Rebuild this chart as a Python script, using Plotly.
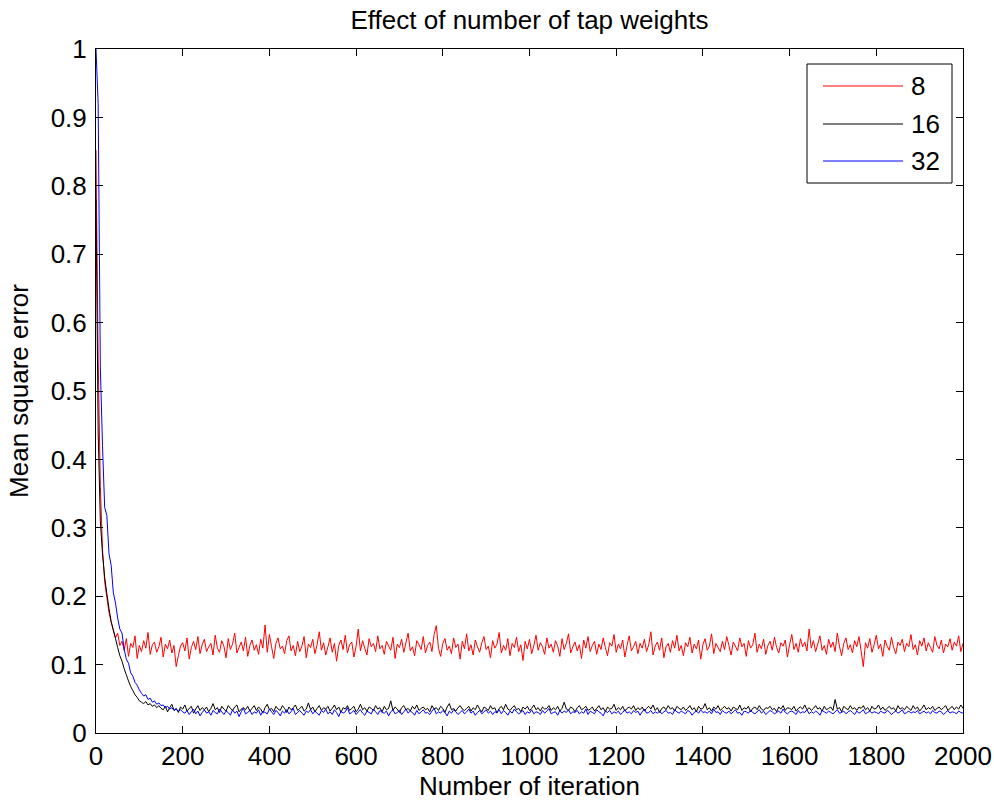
import plotly.graph_objects as go

step = 5
series_names = ["8", "16", "32"]
tick_x = [0, 200, 400, 600, 800, 1000, 1200, 1400, 1600, 1800, 2000]
tick_y = [0, 0.1, 0.2, 0.3, 0.4, 0.5, 0.6, 0.7, 0.8, 0.9, 1]

mse_8 = [
    0.852, 0.548, 0.362, 0.268, 0.221, 0.198, 0.176, 0.162, 0.151, 0.139, 0.146, 0.128, 0.134,
    0.121, 0.138, 0.112, 0.131, 0.125, 0.142, 0.109, 0.128, 0.119, 0.135, 0.124, 0.147, 0.115, 0.129, 0.133, 0.118, 0.126, 0.140, 0.111, 0.130,
    0.123, 0.136, 0.117, 0.128, 0.097, 0.113, 0.127, 0.132, 0.120, 0.139, 0.108, 0.125, 0.134, 0.122, 0.141, 0.116, 0.129, 0.137, 0.119, 0.126,
    0.131, 0.114, 0.143, 0.124, 0.118, 0.135, 0.127, 0.110, 0.138, 0.122, 0.130, 0.146, 0.117, 0.125, 0.133, 0.120, 0.140, 0.112, 0.128, 0.136,
    0.121, 0.129, 0.115, 0.137, 0.124, 0.158, 0.118, 0.144, 0.126, 0.109, 0.131, 0.139, 0.123, 0.127, 0.116, 0.135, 0.142, 0.120, 0.128, 0.113,
    0.134, 0.119, 0.127, 0.141, 0.110, 0.130, 0.125, 0.137, 0.116, 0.129, 0.148, 0.121, 0.132, 0.114, 0.126, 0.139, 0.118, 0.131, 0.105, 0.128,
    0.136, 0.122, 0.143, 0.117, 0.129, 0.133, 0.111, 0.127, 0.152, 0.120, 0.135, 0.124, 0.114, 0.138, 0.126, 0.131, 0.119, 0.142, 0.123, 0.128,
    0.115, 0.134, 0.127, 0.121, 0.140, 0.109, 0.130, 0.125, 0.137, 0.118, 0.132, 0.146, 0.120, 0.126, 0.113, 0.135, 0.129, 0.122, 0.141, 0.117,
    0.128, 0.133, 0.119, 0.144, 0.157, 0.124, 0.112, 0.131, 0.138, 0.121, 0.127, 0.116, 0.139, 0.125, 0.130, 0.108, 0.134, 0.123, 0.145, 0.120,
    0.129, 0.114, 0.136, 0.126, 0.118, 0.132, 0.141, 0.122, 0.127, 0.110, 0.135, 0.124, 0.130, 0.147, 0.117, 0.128, 0.121, 0.138, 0.113, 0.131,
    0.125, 0.140, 0.119, 0.129, 0.106, 0.134, 0.123, 0.137, 0.116, 0.128, 0.143, 0.121, 0.132, 0.126, 0.115, 0.139, 0.124, 0.130, 0.118, 0.135,
    0.127, 0.112, 0.138, 0.122, 0.131, 0.145, 0.117, 0.126, 0.133, 0.120, 0.129, 0.109, 0.136, 0.124, 0.141, 0.119, 0.128, 0.134, 0.115, 0.130,
    0.122, 0.139, 0.125, 0.113, 0.132, 0.127, 0.144, 0.118, 0.130, 0.123, 0.136, 0.111, 0.128, 0.142, 0.120, 0.126, 0.134, 0.116, 0.131, 0.124,
    0.137, 0.119, 0.129, 0.148, 0.114, 0.127, 0.133, 0.121, 0.139, 0.110, 0.126, 0.131, 0.118, 0.135, 0.124, 0.143, 0.120, 0.128, 0.113, 0.132,
    0.126, 0.140, 0.117, 0.130, 0.123, 0.136, 0.108, 0.129, 0.138, 0.121, 0.127, 0.145, 0.116, 0.131, 0.125, 0.119, 0.134, 0.122, 0.141, 0.128,
    0.114, 0.133, 0.127, 0.120, 0.139, 0.126, 0.131, 0.112, 0.135, 0.124, 0.129, 0.146, 0.118, 0.130, 0.123, 0.137, 0.115, 0.128, 0.134, 0.121,
    0.140, 0.125, 0.117, 0.132, 0.127, 0.136, 0.111, 0.129, 0.144, 0.122, 0.131, 0.118, 0.138, 0.126, 0.133, 0.120, 0.152, 0.124, 0.135, 0.119,
    0.130, 0.142, 0.121, 0.128, 0.115, 0.137, 0.125, 0.133, 0.119, 0.146, 0.127, 0.113, 0.131, 0.139, 0.122, 0.129, 0.117, 0.135, 0.126, 0.141,
    0.120, 0.097, 0.132, 0.124, 0.138, 0.118, 0.129, 0.143, 0.123, 0.130, 0.112, 0.136, 0.127, 0.121, 0.140, 0.125, 0.116, 0.133, 0.128, 0.137,
    0.119, 0.131, 0.126, 0.144, 0.122, 0.129, 0.114, 0.135, 0.127, 0.139, 0.120, 0.132, 0.125, 0.118, 0.141, 0.128, 0.123, 0.136, 0.117, 0.130,
    0.126, 0.138, 0.121, 0.133, 0.127, 0.142, 0.119, 0.131,
]

mse_16 = [
    0.780, 0.440, 0.310, 0.262, 0.228, 0.204, 0.182, 0.163, 0.150, 0.138, 0.125, 0.113, 0.105, 0.094, 0.085, 0.076,
    0.068, 0.062, 0.056, 0.052, 0.047, 0.045, 0.043, 0.046, 0.041, 0.043, 0.039, 0.041, 0.037, 0.040, 0.036,
    0.034, 0.039, 0.031, 0.037, 0.042, 0.033, 0.036, 0.030, 0.038, 0.035, 0.041, 0.032, 0.036, 0.039, 0.029, 0.035, 0.040, 0.033, 0.037, 0.034,
    0.038, 0.031, 0.036, 0.043, 0.034, 0.037, 0.030, 0.039, 0.035, 0.032, 0.040, 0.036, 0.033, 0.038, 0.041, 0.031, 0.035, 0.037, 0.034, 0.039,
    0.032, 0.036, 0.040, 0.033, 0.038, 0.035, 0.029, 0.037, 0.042, 0.034, 0.036, 0.031, 0.039, 0.035, 0.033, 0.040, 0.036, 0.030, 0.038, 0.034,
    0.037, 0.041, 0.033, 0.036, 0.039, 0.032, 0.035, 0.044, 0.034, 0.038, 0.031, 0.036, 0.040, 0.033, 0.037, 0.035, 0.039, 0.032, 0.036, 0.041,
    0.034, 0.038, 0.030, 0.037, 0.035, 0.040, 0.033, 0.036, 0.039, 0.031, 0.035, 0.042, 0.034, 0.037, 0.032, 0.038, 0.036, 0.033, 0.040, 0.035,
    0.037, 0.031, 0.039, 0.034, 0.036, 0.047, 0.033, 0.038, 0.035, 0.030, 0.037, 0.040, 0.034, 0.036, 0.032, 0.039, 0.035, 0.041, 0.033, 0.036,
    0.038, 0.034, 0.036, 0.031, 0.040, 0.035, 0.037, 0.033, 0.039, 0.036, 0.030, 0.038, 0.043, 0.034, 0.036, 0.032, 0.037, 0.040, 0.035, 0.033,
    0.036, 0.039, 0.032, 0.037, 0.034, 0.041, 0.035, 0.031, 0.038, 0.036, 0.033, 0.040, 0.035, 0.037, 0.029, 0.036, 0.039, 0.034, 0.042, 0.035,
    0.033, 0.037, 0.040, 0.034, 0.036, 0.031, 0.038, 0.035, 0.039, 0.033, 0.036, 0.041, 0.034, 0.037, 0.032, 0.038, 0.035, 0.036, 0.040, 0.033,
    0.037, 0.034, 0.039, 0.032, 0.036, 0.045, 0.035, 0.033, 0.038, 0.036, 0.031, 0.037, 0.040, 0.034, 0.036, 0.039, 0.033, 0.035, 0.038, 0.032,
    0.036, 0.040, 0.034, 0.037, 0.031, 0.038, 0.035, 0.036, 0.042, 0.033, 0.037, 0.034, 0.039, 0.032, 0.036, 0.038, 0.035, 0.040, 0.033, 0.037,
    0.034, 0.038, 0.032, 0.036, 0.039, 0.035, 0.041, 0.033, 0.037, 0.030, 0.036, 0.038, 0.034, 0.040, 0.035, 0.037, 0.032, 0.039, 0.036, 0.034,
    0.038, 0.033, 0.036, 0.040, 0.034, 0.037, 0.031, 0.039, 0.035, 0.036, 0.043, 0.034, 0.037, 0.032, 0.038, 0.035, 0.040, 0.033, 0.036, 0.039,
    0.035, 0.037, 0.032, 0.038, 0.036, 0.034, 0.041, 0.033, 0.037, 0.035, 0.039, 0.031, 0.036, 0.038, 0.034, 0.040, 0.035, 0.033, 0.037, 0.036,
    0.039, 0.034, 0.036, 0.031, 0.038, 0.035, 0.040, 0.033, 0.037, 0.036, 0.034, 0.039, 0.032, 0.036, 0.038, 0.035, 0.041, 0.034, 0.037, 0.033,
    0.036, 0.040, 0.035, 0.037, 0.032, 0.039, 0.034, 0.036, 0.038, 0.033, 0.049, 0.035, 0.037, 0.031, 0.039, 0.036, 0.034, 0.040, 0.035, 0.037,
    0.033, 0.038, 0.036, 0.040, 0.034, 0.037, 0.032, 0.039, 0.035, 0.036, 0.041, 0.034, 0.038, 0.033, 0.036, 0.039, 0.035, 0.037, 0.032, 0.040,
    0.035, 0.037, 0.034, 0.039, 0.036, 0.033, 0.040, 0.035, 0.038, 0.032, 0.036, 0.041, 0.034, 0.037, 0.035, 0.039, 0.033, 0.036, 0.038, 0.034,
    0.037, 0.040, 0.033, 0.036, 0.039, 0.034, 0.038, 0.035, 0.041, 0.036,
]

mse_32 = [
    1.000, 0.920, 0.535, 0.420, 0.330, 0.318, 0.262, 0.245, 0.205, 0.190,
    0.168, 0.152, 0.146, 0.122, 0.108, 0.102, 0.088, 0.083, 0.074, 0.070,
    0.063, 0.058, 0.054, 0.056, 0.049, 0.051, 0.045, 0.047, 0.042, 0.044,
    0.040, 0.041, 0.037, 0.039, 0.035, 0.037, 0.033, 0.035, 0.032, 0.034, 0.031,
    0.029, 0.033, 0.027, 0.031, 0.035, 0.028, 0.032, 0.025, 0.030, 0.034, 0.029, 0.031, 0.026, 0.033, 0.030, 0.028, 0.035, 0.031, 0.027, 0.032,
    0.030, 0.026, 0.034, 0.029, 0.032, 0.024, 0.031, 0.036, 0.028, 0.030, 0.033, 0.027, 0.031, 0.029, 0.034, 0.026, 0.032, 0.030, 0.028, 0.035,
    0.031, 0.027, 0.033, 0.030, 0.025, 0.032, 0.029, 0.034, 0.028, 0.031, 0.036, 0.027, 0.030, 0.033, 0.029, 0.026, 0.032, 0.030, 0.034, 0.028,
    0.032, 0.029, 0.026, 0.033, 0.030, 0.035, 0.028, 0.031, 0.027, 0.034, 0.030, 0.024, 0.032, 0.029, 0.031, 0.037, 0.028, 0.030, 0.033, 0.027,
    0.031, 0.034, 0.029, 0.026, 0.032, 0.030, 0.028, 0.035, 0.031, 0.027, 0.033, 0.030, 0.029, 0.032, 0.025, 0.031, 0.034, 0.028, 0.030, 0.033,
    0.027, 0.031, 0.035, 0.029, 0.032, 0.030, 0.026, 0.033, 0.028, 0.031, 0.034, 0.029, 0.030, 0.027, 0.032, 0.036, 0.028, 0.031, 0.029, 0.033,
    0.030, 0.025, 0.032, 0.029, 0.034, 0.031, 0.027, 0.030, 0.033, 0.028, 0.031, 0.035, 0.029, 0.032, 0.026, 0.030, 0.033, 0.028, 0.031, 0.034,
    0.029, 0.032, 0.027, 0.031, 0.030, 0.034, 0.028, 0.033, 0.030, 0.026, 0.032, 0.029, 0.035, 0.031, 0.028, 0.030, 0.033, 0.027, 0.031, 0.029,
    0.034, 0.028, 0.031, 0.030, 0.027, 0.033, 0.029, 0.032, 0.036, 0.028, 0.030, 0.031, 0.026, 0.033, 0.029, 0.032, 0.030, 0.034, 0.028, 0.031,
    0.030, 0.033, 0.028, 0.031, 0.029, 0.035, 0.027, 0.032, 0.030, 0.028, 0.034, 0.031, 0.029, 0.025, 0.032, 0.030, 0.033, 0.028, 0.031, 0.029,
    0.032, 0.027, 0.030, 0.034, 0.029, 0.031, 0.028, 0.033, 0.030, 0.032, 0.026, 0.031, 0.035, 0.029, 0.030, 0.033, 0.028, 0.031, 0.029, 0.032,
    0.028, 0.031, 0.033, 0.029, 0.030, 0.027, 0.034, 0.031, 0.029, 0.032, 0.030, 0.028, 0.033, 0.031, 0.026, 0.030, 0.032, 0.029, 0.034, 0.030,
    0.031, 0.029, 0.032, 0.028, 0.035, 0.030, 0.031, 0.027, 0.033, 0.030, 0.029, 0.032, 0.028, 0.031, 0.034, 0.029, 0.030, 0.026, 0.032, 0.031,
    0.029, 0.033, 0.030, 0.028, 0.031, 0.034, 0.029, 0.032, 0.027, 0.030, 0.033, 0.031, 0.028, 0.030, 0.032, 0.029, 0.035, 0.030, 0.028, 0.031,
    0.032, 0.030, 0.027, 0.033, 0.029, 0.031, 0.030, 0.034, 0.028, 0.031, 0.029, 0.032, 0.030, 0.026, 0.033, 0.031, 0.029, 0.032, 0.030, 0.028,
    0.031, 0.034, 0.029, 0.030, 0.032, 0.028, 0.031, 0.033, 0.030, 0.027, 0.032, 0.029, 0.031, 0.034, 0.028, 0.030, 0.032, 0.029, 0.031, 0.030,
    0.028, 0.032, 0.030, 0.029, 0.033, 0.031, 0.027, 0.030, 0.032, 0.029, 0.031, 0.034, 0.028, 0.030, 0.032, 0.029, 0.031, 0.030, 0.033, 0.028,
    0.030, 0.032, 0.029, 0.031, 0.028, 0.033, 0.030, 0.029, 0.032, 0.031, 0.027, 0.030, 0.033, 0.029, 0.031, 0.030, 0.028, 0.032, 0.030, 0.029,
]

colors = ["#ff0000", "#000000", "#0000ff"]
all_series = [mse_8, mse_16, mse_32]

FONT = "Liberation Sans, Arial, Helvetica, sans-serif"
FS = 26

# figure geometry (pixels)
W, H = 994, 801
L, R, T, B = 96, 31, 49, 68
PW, PH = W - L - R, H - T - B


def px_x(px):
    return (px - L) / PW


def px_y(py):
    return (H - B - py) / PH


fig = go.Figure()
for name, vals, col in zip(series_names, all_series, colors):
    iters = [i * step for i in range(len(vals))]
    fig.add_trace(go.Scatter(
        x=iters, y=vals, mode="lines", name=name, showlegend=False,
        line=dict(color=col, width=1, simplify=False),
    ))

# legend box drawn like the MATLAB legend
shapes = [dict(type="rect", xref="paper", yref="paper",
               x0=px_x(807), x1=px_x(952), y0=px_y(183), y1=px_y(64),
               line=dict(color="black", width=1), fillcolor="white", layer="above")]
annotations = []
row_py = [86, 124, 161]
for name, col, py in zip(series_names, colors, row_py):
    shapes.append(dict(type="line", xref="paper", yref="paper",
                       x0=px_x(823), x1=px_x(903), y0=px_y(py), y1=px_y(py),
                       line=dict(color=col, width=1), layer="above"))
    annotations.append(dict(xref="paper", yref="paper", x=px_x(909), y=px_y(py),
                            xanchor="left", yanchor="middle", showarrow=False,
                            text=name, font=dict(family=FONT, size=FS, color="black")))

axis_common = dict(
    showline=True, linecolor="black", linewidth=1, mirror="ticks",
    ticks="inside", ticklen=7, tickwidth=1, tickcolor="black",
    showgrid=False, zeroline=False, automargin=False,
    tickfont=dict(family=FONT, size=FS, color="black"),
)

fig.update_layout(
    width=W, height=H,
    margin=dict(l=L, r=R, t=T, b=B, autoexpand=False),
    paper_bgcolor="white", plot_bgcolor="white",
    font=dict(family=FONT, size=FS, color="black"),
    title=dict(text="Effect of number of tap weights", x=0.5, xref="paper",
               y=1 - 20 / H, yref="container", yanchor="middle",
               font=dict(family=FONT, size=FS, color="black")),
    xaxis=dict(range=[0, 2000], tickvals=tick_x,
               title=dict(text="Number of iteration", standoff=2,
                          font=dict(family=FONT, size=FS)),
               **axis_common),
    yaxis=dict(range=[0, 1], tickvals=tick_y, ticklabelstandoff=3,
               title=dict(text="Mean square error", standoff=14,
                          font=dict(family=FONT, size=FS)),
               **axis_common),
    shapes=shapes,
    annotations=annotations,
    showlegend=False,
)

fig.write_html("out.html", config={"displayModeBar": False},
               post_script="document.body.style.margin='0';document.body.style.padding='0';")
